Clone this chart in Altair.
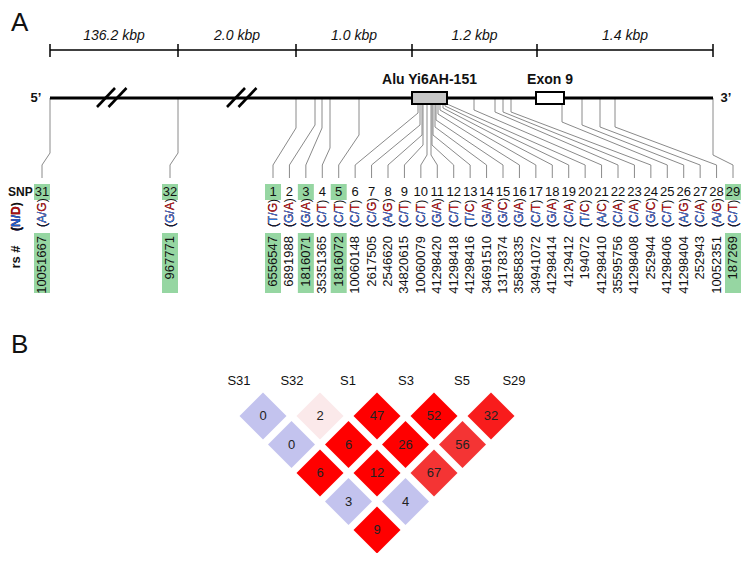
import altair as alt
import pandas as pd

# ---------------- data ----------------
snp_ids = [31, 32, 1, 2, 3, 4, 5, 6, 7, 8, 9, 10, 11, 12, 13, 14, 15, 16, 17, 18, 19, 20,
           21, 22, 23, 24, 25, 26, 27, 28, 29]
# position of each SNP on the drawn gene line
gene_x = [50, 178, 296, 315, 322, 330, 359, 418, 420, 422, 423, 427, 431, 432, 433, 435,
          436, 438, 440, 443, 445, 447, 474, 495, 503, 511, 562, 582, 600, 615, 713]
# depth at which each connector leaves the vertical
bend_y = [153, 153, 128, 125, 128, 148, 135, 113, 125, 135, 145, 155, 155, 145, 135, 127,
          120, 114, 110, 108, 106, 104, 110, 112, 112, 112, 122, 125, 127, 127, 155]
alleles = ["A/G", "G/A", "T/G", "G/A", "G/A", "C/T", "C/T", "C/T", "C/G", "A/G", "C/T", "C/T",
           "G/A", "C/T", "T/C", "G/A", "G/C", "G/A", "C/T", "G/A", "C/A", "T/C", "A/C", "C/A",
           "C/A", "G/C", "C/T", "A/G", "C/A", "A/G", "C/T"]
rs_ids = ["10051667", "967771", "6556547", "6891988", "1816071", "35351365", "1816072",
          "10060148", "2617505", "2546620", "34820615", "10060079", "41298420", "41298418",
          "41298416", "34691510", "13178374", "35858335", "34941072", "41298414", "4129412",
          "194072", "41298410", "35595756", "41298408", "252944", "41298406", "41298404",
          "252943", "10052351", "187269"]
highlighted = [31, 32, 1, 3, 5, 29]

scale_ticks = [50, 178, 296, 412, 537, 713]
scale_labels = ["136.2 kbp", "2.0 kbp", "1.0 kbp", "1.2 kbp", "1.4 kbp"]
break_x = [112, 242]
feature_names = ["Alu Yi6AH-151", "Exon 9"]
feature_start = [412, 536]
feature_end = [447, 564]
feature_kind = ["Alu", "Exon"]

ld_snps = ["S31", "S32", "S1", "S3", "S5", "S29"]
ld_i = [0, 1, 2, 3, 4, 0, 1, 2, 3, 0, 1, 2, 0, 1, 0]
ld_j = [1, 2, 3, 4, 5, 2, 3, 4, 5, 3, 4, 5, 4, 5, 5]
ld_val = [0, 2, 47, 52, 32, 0, 6, 26, 56, 6, 12, 67, 3, 4, 9]
ld_class = ["D'=1, LOD<2", "D'<1, LOD<2", "D'=1, LOD≥2", "D'=1, LOD≥2", "D'≈0.95",
            "D'=1, LOD<2", "D'=1, LOD≥2", "D'=1, LOD≥2", "D'≈0.9",
            "D'=1, LOD≥2", "D'=1, LOD≥2", "D'≈0.9",
            "D'=1, LOD<2", "D'=1, LOD<2",
            "D'=1, LOD≥2"]

# ---------------- layout ----------------
FONT = "Liberation Sans"
GENE_Y, DIAG_Y, LABEL_TOP = 98, 165, 178
NUM_Y, ALLELE_BOTTOM, RS_TOP = 192, 227, 236
BLUE, RED = "#2a78de", "#bb2026"
LBL_X0, LBL_X1 = 273, 733

xs = alt.Scale(domain=[8, 742])
ys = alt.Scale(domain=[8, 553], reverse=True)


def X(f):
    return alt.X(f"{f}:Q", scale=xs, axis=None)


def Y(f):
    return alt.Y(f"{f}:Q", scale=ys, axis=None)


def label_x(k, sid):
    if sid in (31, 32):
        return gene_x[k] - 8
    return LBL_X0 + (sid - 1) * (LBL_X1 - LBL_X0) / 28


snp_df = pd.DataFrame({
    "sid": snp_ids,
    "num": [str(s) for s in snp_ids],
    "lx": [label_x(k, s) for k, s in enumerate(snp_ids)],
    "gx": gene_x,
    "yb": bend_y,
    "full": ["(" + a + ")" for a in alleles],
    "p4": ["(" + a for a in alleles],
    "p3": ["(" + a[:2] for a in alleles],
    "p1": ["(" for a in alleles],
    "rs": rs_ids,
})
snp_df["num_y"] = NUM_Y
snp_df["al_y"] = ALLELE_BOTTOM
snp_df["rs_y"] = RS_TOP

# connectors
rows = []
for _, r in snp_df.iterrows():
    pts = [(r.gx, GENE_Y), (r.gx, r.yb), (r.lx, DIAG_Y), (r.lx, LABEL_TOP)]
    for o, (px, py) in enumerate(pts):
        rows.append({"sid": r.sid, "o": o, "x": px, "y": py})
conn_df = pd.DataFrame(rows)
connectors = alt.Chart(conn_df).mark_line(color="#8a8a8a", strokeWidth=1).encode(
    x=X("x"), y=Y("y"), detail="sid:N", order="o:Q")

# green highlight boxes
hl = snp_df[snp_df.sid.isin(highlighted)].copy()
box_rows = []
for _, r in hl.iterrows():
    box_rows.append({"x1": r.lx - 8, "x2": r.lx + 8, "y1": 184, "y2": 200})
    box_rows.append({"x1": r.lx - 8, "x2": r.lx + 8, "y1": 233, "y2": 293})
green = alt.Chart(pd.DataFrame(box_rows)).mark_rect(color="#96d6a2").encode(
    x=X("x1"), x2="x2:Q", y=Y("y1"), y2="y2:Q")

# scale bar
sb = alt.Chart(pd.DataFrame({"x": [scale_ticks[0]], "x2": [scale_ticks[-1]], "y": [50]})).mark_rule(
    color="black", strokeWidth=1.5).encode(x=X("x"), x2="x2:Q", y=Y("y"))
tk = alt.Chart(pd.DataFrame({"x": scale_ticks, "y": 44, "y2": 57})).mark_rule(
    color="black", strokeWidth=1.5).encode(x=X("x"), y=Y("y"), y2="y2:Q")
sl_df = pd.DataFrame({"t": scale_labels,
                      "x": [(a + b) / 2 for a, b in zip(scale_ticks[:-1], scale_ticks[1:])],
                      "y": 36})
sl = alt.Chart(sl_df).mark_text(font=FONT, fontSize=14, fontStyle="italic", baseline="middle",
                                color="#111").encode(x=X("x"), y=Y("y"), text="t:N")

# gene line
gl = alt.Chart(pd.DataFrame({"x": [50], "x2": [713], "y": [GENE_Y]})).mark_rule(
    color="black", strokeWidth=3).encode(x=X("x"), x2="x2:Q", y=Y("y"))
sl_rows = []
for bx in break_x:
    for off in (-6, 5.5):
        sl_rows.append({"x": bx + off - 9, "y": 107, "x2": bx + off + 9, "y2": 88})
slashes = alt.Chart(pd.DataFrame(sl_rows)).mark_rule(color="black", strokeWidth=2.6).encode(
    x=X("x"), y=Y("y"), x2="x2:Q", y2="y2:Q")

feat_df = pd.DataFrame({"name": feature_names, "x1": feature_start, "x2": feature_end,
                        "kind": feature_kind, "y1": 92, "y2": 104, "ty": 80})
feat_df["cx"] = (feat_df.x1 + feat_df.x2) / 2
boxes = alt.Chart(feat_df).mark_rect(stroke="black", strokeWidth=2).encode(
    x=X("x1"), x2="x2:Q", y=Y("y1"), y2="y2:Q",
    fill=alt.Fill("kind:N", scale=alt.Scale(domain=["Alu", "Exon"], range=["#c6c6c6", "#ffffff"]),
                  legend=None))
feat_txt = alt.Chart(feat_df).mark_text(font=FONT, fontSize=14, fontWeight="bold",
                                        baseline="middle", color="#111").encode(
    x=X("cx"), y=Y("ty"), text="name:N")
ends = alt.Chart(pd.DataFrame({"t": ["5’", "3’"], "x": [36, 726], "y": [GENE_Y, GENE_Y]})).mark_text(
    font=FONT, fontSize=13, fontWeight="bold", baseline="middle", color="#111").encode(
    x=X("x"), y=Y("y"), text="t:N")

# SNP rows
nums = alt.Chart(snp_df).mark_text(font=FONT, fontSize=13, baseline="middle", color="#111").encode(
    x=X("lx"), y=Y("num_y"), text="num:N")


def allele_layer(field, color):
    return alt.Chart(snp_df).mark_text(font=FONT, fontSize=12, angle=270, align="left",
                                       baseline="middle", color=color).encode(
        x=X("lx"), y=Y("al_y"), text=f"{field}:N")


al_layers = [allele_layer("full", "#111"), allele_layer("p4", RED),
             allele_layer("p3", BLUE), allele_layer("p1", "#111")]

rs = alt.Chart(snp_df).mark_text(font=FONT, fontSize=13, angle=270, align="right",
                                 baseline="middle", color="#111").encode(
    x=X("lx"), y=Y("rs_y"), text="rs:N")

# row headers
hdr_df = pd.DataFrame({"full": ["(N/D)"], "p4": ["(N/D"], "p3": ["(N/"], "p1": ["("],
                       "x": [16], "y": [231]})


def hdr_layer(field, color):
    return alt.Chart(hdr_df).mark_text(font=FONT, fontSize=12, fontWeight="bold", angle=270,
                                       align="left", baseline="middle", color=color).encode(
        x=X("x"), y=Y("y"), text=f"{field}:N")


hdr_layers = [hdr_layer("full", "#111"), hdr_layer("p4", "#b01010"),
              hdr_layer("p3", "#1660d0"), hdr_layer("p1", "#111")]
snp_hdr = alt.Chart(pd.DataFrame({"t": ["SNP"], "x": [8], "y": [NUM_Y]})).mark_text(
    font=FONT, fontSize=12, fontWeight="bold", align="left", baseline="middle",
    color="#111").encode(x=X("x"), y=Y("y"), text="t:N")
rs_hdr = alt.Chart(pd.DataFrame({"t": ["rs #"], "x": [16], "y": [257]})).mark_text(
    font=FONT, fontSize=13, fontWeight="bold", angle=270, baseline="middle", color="#111").encode(
    x=X("x"), y=Y("y"), text="t:N")

panel = alt.Chart(pd.DataFrame({"t": ["A", "B"], "x": [11, 11], "y": [23, 345]})).mark_text(
    font=FONT, fontSize=26, align="left", baseline="middle", color="#111").encode(
    x=X("x"), y=Y("y"), text="t:N")

# ---------------- panel B ----------------
LD_X0, LD_DX, LD_Y0, LD_DY = 263, 57, 416, 28.5
ld_df = pd.DataFrame({"i": ld_i, "j": ld_j, "v": [str(v) for v in ld_val], "cls": ld_class})
ld_df["x"] = LD_X0 + (ld_df.i + ld_df.j - 1) * LD_DX / 2
ld_df["y"] = LD_Y0 + (ld_df.j - ld_df.i - 1) * LD_DY
cls_dom = ["D'=1, LOD<2", "D'<1, LOD<2", "D'=1, LOD≥2", "D'≈0.95", "D'≈0.9"]
cls_rng = ["#c3c3ee", "#fbe9ea", "#ff0000", "#f81c1c", "#f43434"]
diam = alt.Chart(ld_df).mark_point(shape="diamond", filled=True, size=2209, opacity=1,
                                   strokeWidth=0).encode(
    x=X("x"), y=Y("y"),
    color=alt.Color("cls:N", scale=alt.Scale(domain=cls_dom, range=cls_rng), legend=None))
diam_txt = alt.Chart(ld_df).mark_text(font=FONT, fontSize=13, baseline="middle", color="#222").encode(
    x=X("x"), y=Y("y"), text="v:N")
col_df = pd.DataFrame({"t": ld_snps})
col_df["x"] = [239, 292, 348, 406, 462, 514]
col_df["y"] = 381
cols = alt.Chart(col_df).mark_text(font=FONT, fontSize=13, baseline="middle", color="#111").encode(
    x=X("x"), y=Y("y"), text="t:N")

chart = alt.layer(
    connectors, sb, tk, sl, gl, slashes, boxes, feat_txt, ends, green, nums,
    *al_layers, rs, *hdr_layers, snp_hdr, rs_hdr, panel, diam, diam_txt, cols
).properties(width=734, height=545, padding=0, autosize="none", background="white").configure_view(
    stroke=None)

chart.save("out.html", embed_options={"renderer": "svg", "actions": False})
